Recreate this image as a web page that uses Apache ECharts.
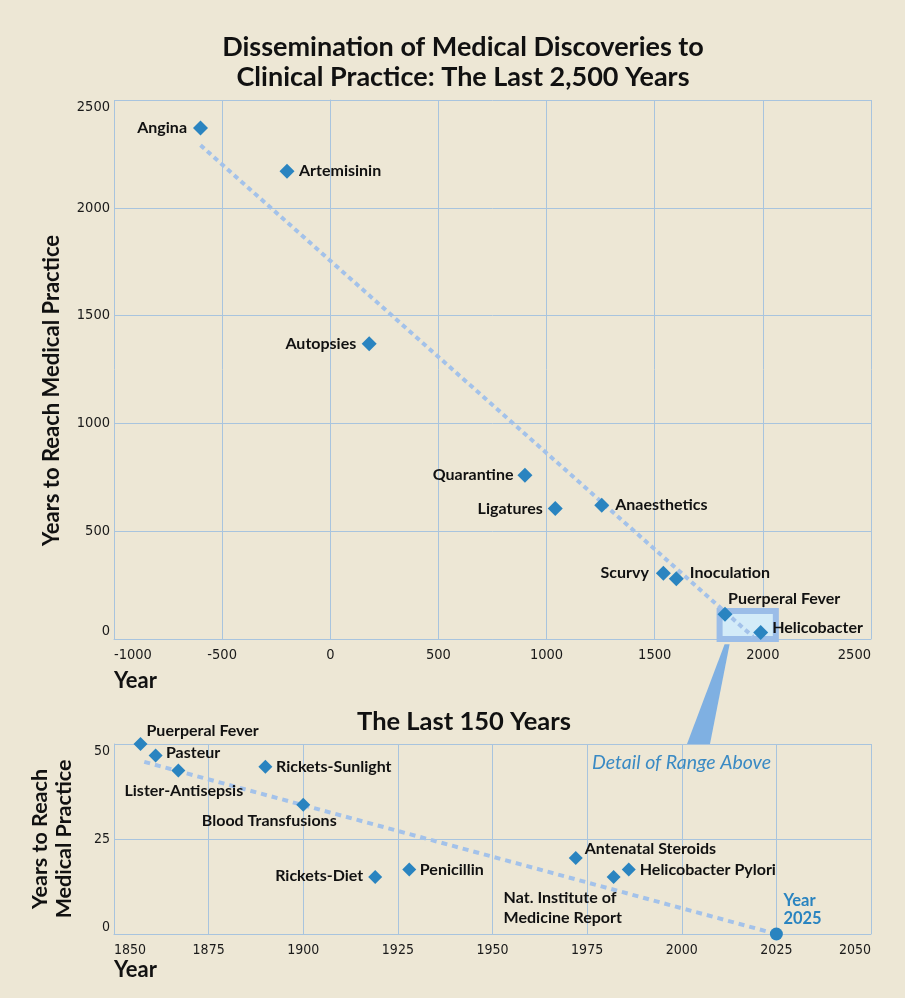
<!DOCTYPE html>
<html><head><meta charset="utf-8">
<script src="https://cdn.jsdelivr.net/npm/echarts@6/dist/echarts.min.js"></script>
<style>html,body{margin:0;padding:0;background:#ede7d5;} #c{width:905px;height:998px;}</style>
</head><body><div id="c"></div>
<script>
// ---- data ----
const topNames = ['Angina','Artemisinin','Autopsies','Quarantine','Ligatures','Anaesthetics','Scurvy','Inoculation','Puerperal Fever','Helicobacter'];
const topYears = [-600,-200,180,900,1040,1255,1540,1600,1825,1990];
const topLags  = [2370,2170,1370,760,605,620,305,280,115,30];
const topTrendYears = [-600,1955];
const topTrendLags  = [2290,10];
const zoomBoxYears = [1800,2060];
const zoomBoxLags  = [-10,130];

const bottomNames = ['Puerperal Fever','Pasteur','Lister-Antisepsis','Rickets-Sunlight','Blood Transfusions','Rickets-Diet','Penicillin','Antenatal Steroids','Nat. Institute of\nMedicine Report','Helicobacter Pylori'];
const bottomYears = [1857,1861,1867,1890,1900,1919,1928,1972,1982,1986];
const bottomLags  = [50,47,43,44,34,15,17,20,15,17];
const bottomTrendYears = [1858,2025];
const bottomTrendLags  = [45.3,0];
const endName = 'Year\n2025';
const endYears = [2025];
const endLags  = [0];

const titleText = 'Dissemination of Medical Discoveries to\nClinical Practice: The Last 2,500 Years';
const subTitleText = 'The Last 150 Years';
const detailText = 'Detail of Range Above';

// ---- styles ----
const BLUE = '#2a84c0', TREND = '#a3c2ea', GRID = '#a8c4de', BG = '#ede7d5';
const LBL_FONT = 'Lato', TICK_FONT = '"Liberation Sans Narrow", "DejaVu Sans Condensed", sans-serif';
const topLayout = {
  'Angina': {position:'left', distance:6},
  'Artemisinin': {position:'right', distance:4.5},
  'Autopsies': {position:'left', distance:5.5},
  'Quarantine': {position:'left', distance:4},
  'Ligatures': {position:'left', distance:5},
  'Anaesthetics': {position:'right', distance:6},
  'Scurvy': {position:'left', distance:7},
  'Inoculation': {position:'right', distance:6, offset:[0,-6]},
  'Puerperal Fever': {position:'right', distance:0, offset:[-4.5,-15]},
  'Helicobacter': {position:'right', distance:4, offset:[0,-5]}
};
const bottomLayout = [
  {position:'right', distance:0, offset:[-1,-13]},
  {position:'right', distance:3.3, offset:[0,-2.5]},
  {position:'inside', offset:[5.5,20.7]},
  {position:'right', distance:3.6},
  {position:'inside', offset:[-34,16]},
  {position:'left', distance:5, offset:[0,-1]},
  {position:'right', distance:3.6},
  {position:'right', distance:2, offset:[0,-9.6]},
  {position:'inside', align:'left', offset:[-110,30.6], lineHeight:20},
  {position:'right', distance:4}
];
function lbl(o){
  return Object.assign({show:true, formatter:'{b}', color:'#111', fontFamily:LBL_FONT, fontWeight:'bold', fontSize:16}, o);
}
const topData = topNames.map((n,i)=>({name:n, value:[topYears[i], topLags[i]], label:lbl(topLayout[n])}));
const bottomData = bottomNames.map((n,i)=>({name:n, value:[bottomYears[i], bottomLags[i]], label:lbl(bottomLayout[i])}));
const endData = endYears.map((y,i)=>({name:endName, value:[y,endLags[i]],
  label:lbl({position:'right', distance:0.5, offset:[0,-24], color:BLUE, lineHeight:18, fontSize:16.5, align:'left'})}));

function xAxisCfg(idx,min,max,intv,fs){
  return {gridIndex:idx, type:'value', min:min, max:max, interval:intv,
    axisLine:{show:true, onZero:false, lineStyle:{color:GRID, width:1}}, axisTick:{show:false},
    splitLine:{show:true, lineStyle:{color:GRID, width:1}},
    axisLabel:{formatter:v=>String(v), color:'#1a1a1a', fontFamily:TICK_FONT, fontSize:fs, margin:9, alignMinLabel:'left', alignMaxLabel:'right'}};
}
function yAxisCfg(idx,min,max,intv,fs){
  return {gridIndex:idx, type:'value', min:min, max:max, interval:intv,
    axisLine:{show:true, lineStyle:{color:GRID, width:1}}, axisTick:{show:false},
    splitLine:{show:true, lineStyle:{color:GRID, width:1}},
    axisLabel:{formatter:v=>String(v), color:'#1a1a1a', fontFamily:TICK_FONT, fontSize:fs, margin:4, verticalAlignMinLabel:'bottom', verticalAlignMaxLabel:'top'}};
}

const chart = echarts.init(document.getElementById('c'), null, {renderer:'canvas'});
const option = {
  backgroundColor: BG,
  animation:false,
  title:[
    {text:titleText, left:458, top:27, textAlign:'center',
     textStyle:{fontFamily:LBL_FONT, fontWeight:'bold', fontSize:27, lineHeight:30, color:'#111'}},
    {text:subTitleText, left:459, top:703, textAlign:'center',
     textStyle:{fontFamily:LBL_FONT, fontWeight:'bold', fontSize:25.5, lineHeight:28, color:'#111'}}
  ],
  grid:[
    {left:114, right:34, top:100, height:539, containLabel:false},
    {left:114, right:34, top:744, height:190, containLabel:false}
  ],
  xAxis:[xAxisCfg(0,-1000,2500,500,14.5), xAxisCfg(1,1850,2050,25,14)],
  yAxis:[yAxisCfg(0,0,2500,500,14.5), yAxisCfg(1,0,50,25,14)],
  series:[
    {type:'line', xAxisIndex:0, yAxisIndex:0, z:2, silent:true, symbol:'none', clip:false,
     data: topTrendYears.map((x,i)=>[x, topTrendLags[i]]),
     lineStyle:{color:TREND, width:4, type:[5,4]},
     markArea:{silent:true, z:1,
       itemStyle:{color:'#d3ebf8', borderColor:'#9bbde8', borderWidth:6},
       data:[[{coord:[zoomBoxYears[0], zoomBoxLags[1]]},{coord:[zoomBoxYears[1], zoomBoxLags[0]]}]]}},
    {type:'scatter', xAxisIndex:0, yAxisIndex:0, z:3, symbol:'diamond', symbolSize:15,
     itemStyle:{color:BLUE, opacity:1}, data: topData},
    {type:'line', xAxisIndex:1, yAxisIndex:1, z:2, silent:true, symbol:'none',
     data: bottomTrendYears.map((x,i)=>[x, bottomTrendLags[i]]),
     lineStyle:{color:TREND, width:4, type:[6,5]}},
    {type:'scatter', xAxisIndex:1, yAxisIndex:1, z:3, symbol:'diamond', symbolSize:14,
     itemStyle:{color:BLUE, opacity:1}, data: bottomData},
    {type:'scatter', xAxisIndex:1, yAxisIndex:1, z:3, symbol:'circle', symbolSize:13, clip:false,
     itemStyle:{color:BLUE, opacity:1}, data: endData}
  ]
};
chart.setOption(option);

// annotations positioned from the axes
const g0 = chart.getModel().getComponent('grid',0).coordinateSystem.getRect();
const g1 = chart.getModel().getComponent('grid',1).coordinateSystem.getRect();
const boxBL = chart.convertToPixel({gridIndex:0}, [zoomBoxYears[0], zoomBoxLags[0]]);
const wedgeTop = boxBL[1] + 3;
chart.setOption({graphic:[
  {type:'polygon', z:0, silent:true,
   shape:{points:[[boxBL[0]+5, wedgeTop],[boxBL[0]+10, wedgeTop],[g1.x+596, g1.y],[g1.x+573, g1.y]]},
   style:{fill:'#7fb0e2'}},
  {type:'text', z:10, x:g0.x-62, y:g0.y+g0.height/2+21, rotation:Math.PI/2,
   style:{text:'Years to Reach Medical Practice', font:'bold 22px Lato', fill:'#111', align:'center', verticalAlign:'middle'}},
  {type:'text', z:10, x:g1.x-74, y:g1.y+g1.height/2, rotation:Math.PI/2,
   style:{text:'Years to Reach', font:'bold 21.5px Lato', fill:'#111', align:'center', verticalAlign:'middle'}},
  {type:'text', z:10, x:g1.x-50, y:g1.y+g1.height/2, rotation:Math.PI/2,
   style:{text:'Medical Practice', font:'bold 21.5px Lato', fill:'#111', align:'center', verticalAlign:'middle'}},
  {type:'text', z:10, x:g0.x, y:g0.y+g0.height+42,
   style:{text:'Year', font:'bold 22px Lato', fill:'#111', align:'left', verticalAlign:'middle'}},
  {type:'text', z:10, x:g1.x, y:g1.y+g1.height+36,
   style:{text:'Year', font:'bold 22px Lato', fill:'#111', align:'left', verticalAlign:'middle'}},
  {type:'text', z:10, x:592, y:g1.y+19,
   style:{text:detailText, font:'italic 19.5px Lato', fill:'#3a8ac4', align:'left', verticalAlign:'middle'}}
]});
</script>
</body></html>
